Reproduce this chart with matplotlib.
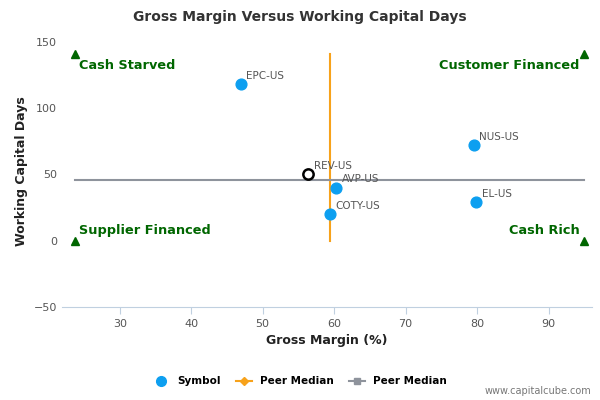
import matplotlib.pyplot as plt
from matplotlib.lines import Line2D

# data
symbols = ["EPC-US", "NUS-US", "REV-US", "AVP-US", "COTY-US", "EL-US"]
gross_margin = [46.9, 79.5, 56.4, 60.3, 59.4, 79.9]
wc_days = [118, 72, 50, 40, 20, 29]
highlight = "REV-US"

median_x = 59.4
median_y = 45.5
x_lo, x_hi = 23.7, 94.9
y_lo, y_hi = 0, 141

quadrants = ["Cash Starved", "Customer Financed", "Supplier Financed", "Cash Rich"]

fig = plt.figure(figsize=(6, 4), dpi=100)
ax = fig.add_axes([0.103, 0.2325, 0.884, 0.68])

# median lines
ax.plot([median_x, median_x], [y_lo, y_hi], color="#f7a21b", lw=1.5, zorder=2)
ax.plot([x_lo, x_hi], [median_y, median_y], color="#8e939c", lw=1.5, zorder=2)

# corner triangles
for xx in (x_lo, x_hi):
    for yy in (y_lo, y_hi):
        ax.plot(xx, yy, marker="^", color="#006600", ms=5.5, zorder=3)

# points
for s, x, y in zip(symbols, gross_margin, wc_days):
    if s == highlight:
        ax.scatter(x, y, s=55, facecolor="white", edgecolor="black", lw=1.8, zorder=4)
    else:
        ax.scatter(x, y, s=60, color="#0d9ff0", zorder=4)
    ax.annotate(s, (x, y), xytext=(4, 4), textcoords="offset points",
                fontsize=7.5, color="#555555")

# quadrant labels
qfont = dict(fontsize=9.3, fontweight="bold", color="#006600", va="center")
ax.text(x_lo + 0.6, 132, quadrants[0], ha="left", **qfont)
ax.text(x_hi - 0.6, 132, quadrants[1], ha="right", **qfont)
ax.text(x_lo + 0.6, 8, quadrants[2], ha="left", **qfont)
ax.text(x_hi - 0.6, 8, quadrants[3], ha="right", **qfont)

ax.set_xlim(21.9, 96.1)
ax.set_ylim(-50, 155)
ax.set_xticks([30, 40, 50, 60, 70, 80, 90])
ax.set_yticks([-50, 0, 50, 100, 150])
ax.tick_params(axis="both", labelsize=8, colors="#555555")
ax.tick_params(axis="y", length=0)
ax.tick_params(axis="x", length=5, color="#c0d0e0")
for side in ("top", "right", "left"):
    ax.spines[side].set_visible(False)
ax.spines["bottom"].set_color("#c0d0e0")

ax.set_xlabel("Gross Margin (%)", fontsize=9, fontweight="bold", color="#222222")
ax.set_ylabel("Working Capital Days", fontsize=9, fontweight="bold", color="#222222")
fig.suptitle("Gross Margin Versus Working Capital Days", fontsize=10,
             fontweight="bold", color="#333333", y=0.975)

handles = [
    Line2D([], [], marker="o", ls="none", color="#0d9ff0", ms=7),
    Line2D([], [], marker="D", color="#f7a21b", ms=4, lw=1.5),
    Line2D([], [], marker="s", color="#8e939c", ms=5, lw=1.5),
]
fig.legend(handles, ["Symbol", "Peer Median", "Peer Median"], loc="center",
           bbox_to_anchor=(0.5, 0.047), ncol=3, frameon=False,
           prop=dict(size=7.5, weight="bold"), handlelength=1.5, columnspacing=1.5)

fig.text(0.985, 0.01, "www.capitalcube.com", ha="right", va="bottom",
         fontsize=7, color="#777777")

fig.savefig("out.png", dpi=100)
